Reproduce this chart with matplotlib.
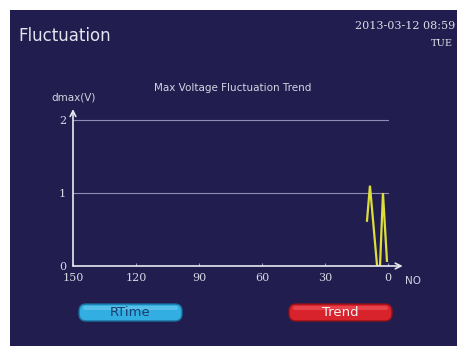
import matplotlib
matplotlib.use("Agg")
import matplotlib.pyplot as plt
from matplotlib.patches import Rectangle, FancyBboxPatch

# ---- data ----
title = "Max Voltage Fluctuation Trend"
y_label = "dmax(V)"
x_label = "NO"
x_ticks = [150, 120, 90, 60, 30, 0]
y_ticks = [0, 1, 2]
grid_levels = [1, 2]
trend_no = [10, 8.6, 5.2, 3.8, 2.4, 0.5]
trend_val = [0.62, 1.1, 0.0, 0.0, 1.0, 0.07]
header = "Fluctuation"
date_text = "2013-03-12 08:59"
day_text = "TUE"
buttons = ["RTime", "Trend"]

W, H = 462, 349
fig = plt.figure(figsize=(W / 100, H / 100), dpi=100)
fig.patch.set_facecolor("white")

bg_col = "#211e4f"
txt_col = "#d8d8e4"

# background / decoration axes in pixel coordinates
bg = fig.add_axes([0, 0, 1, 1])
bg.set_xlim(0, W)
bg.set_ylim(H, 0)
bg.axis("off")
bg.add_patch(Rectangle((10, 10), 447, 336, facecolor=bg_col, edgecolor="none"))

bg.text(18, 36, header, fontsize=12, color="#e4e4ee", family="DejaVu Sans",
        va="center", ha="left")
bg.text(455, 26, date_text, fontsize=8, color="#dcdce6", family="DejaVu Serif",
        va="center", ha="right")
bg.text(453, 44, day_text, fontsize=7, color="#dcdce6", family="DejaVu Serif",
        va="center", ha="right")
bg.text(233, 88, title, fontsize=7.5, color="#d4d4e2", family="DejaVu Sans",
        va="center", ha="center")
bg.text(74, 97, y_label, fontsize=7.5, color="#d4d4e2", family="DejaVu Sans",
        va="center", ha="center")
bg.text(405, 281, x_label, fontsize=7.5, color="#d4d4e2", family="DejaVu Sans",
        va="center", ha="left")

# buttons
btn_specs = [(79, 304, 103, 17, "#33aee2", "#1a6e9c", "#17406e", "#6fcdf2"),
             (289, 304, 103, 17, "#d9232c", "#8e1218", "#f2f2f2", "#ef5a60")]
for (x0, y0, w, h, fc, ec, tc, hc), lab in zip(btn_specs, buttons):
    bg.add_patch(FancyBboxPatch((x0, y0), w, h,
                                boxstyle="round,pad=0,rounding_size=7",
                                facecolor=fc, edgecolor=ec, linewidth=1.0))
    bg.add_patch(FancyBboxPatch((x0 + 4, y0 + 2), w - 8, 4,
                                boxstyle="round,pad=0,rounding_size=2",
                                facecolor=hc, edgecolor="none", alpha=0.6))
    bg.text(x0 + w / 2, y0 + h / 2 + 0.5, lab, fontsize=9.5, color=tc,
            family="DejaVu Sans", ha="center", va="center")

# main chart axes: 150 at px 73, 0 at px 388 ; y 0 at px 266, 1 at px 193
px_per_x = (388 - 73) / 150.0
xmin_d, xmax_d = 150, -8
ymin_d, ymax_d = 0, 2.2
left_px = 73
right_px = 388 + 8 * px_per_x
bottom_px = 266
top_px = 266 - 2.2 * 73
ax = fig.add_axes([left_px / W, 1 - bottom_px / H,
                   (right_px - left_px) / W, (bottom_px - top_px) / H])
ax.set_xlim(xmin_d, xmax_d)
ax.set_ylim(ymin_d, ymax_d)
ax.patch.set_alpha(0)
for s in ax.spines.values():
    s.set_visible(False)

for g in grid_levels:
    ax.plot([150, 0], [g, g], color="#8f8db8", lw=0.8)

# axes arrows
arrow_kw = dict(arrowstyle="->", color="#e8e8f0", lw=1.2, shrinkA=0, shrinkB=0)
ax.annotate("", xy=(-7, 0), xytext=(150, 0), xycoords="data", arrowprops=arrow_kw,
            annotation_clip=False)
ax.annotate("", xy=(150, 2.15), xytext=(150, 0), xycoords="data", arrowprops=arrow_kw,
            annotation_clip=False)

ax.plot(trend_no, trend_val, color="#dede3a", lw=1.6, solid_joinstyle="miter")

ax.set_xticks(x_ticks)
ax.set_xticklabels([str(t) for t in x_ticks], family="DejaVu Serif", fontsize=8,
                   color=txt_col)
ax.set_yticks(y_ticks)
ax.set_yticklabels([str(t) for t in y_ticks], family="DejaVu Serif", fontsize=8,
                   color=txt_col)
ax.tick_params(axis="x", length=2, direction="in", color="#9a98c0", pad=5)
ax.tick_params(axis="y", length=0, pad=5)

fig.savefig("out.png", dpi=100, facecolor="white")
